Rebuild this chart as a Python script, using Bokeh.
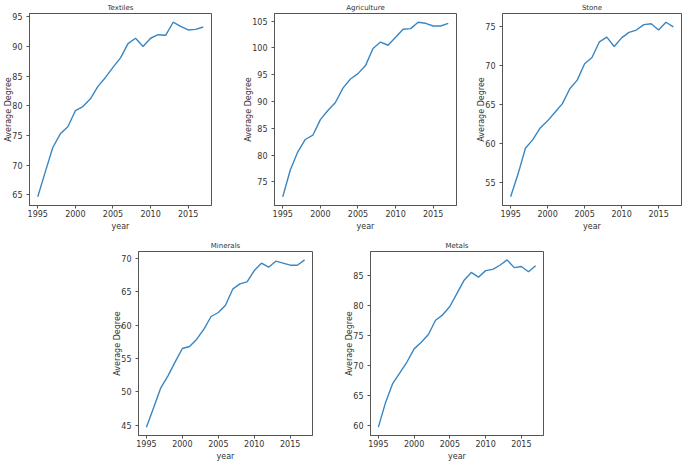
from bokeh.plotting import figure
from bokeh.layouts import row, column
from bokeh.models import Range1d, SingleIntervalTicker, Spacer
from bokeh.embed import file_html
from bokeh.resources import INLINE

years = list(range(1995, 2018))

textiles = [64.7, 68.9, 73.0, 75.3, 76.5, 79.2, 79.9, 81.2, 83.3, 84.8, 86.5, 88.1,
            90.5, 91.4, 90.0, 91.4, 92.0, 91.9, 94.1, 93.4, 92.8, 92.9, 93.3]
agriculture = [72.2, 77.2, 80.6, 82.9, 83.7, 86.6, 88.3, 89.8, 92.5, 94.2, 95.2, 96.7,
               99.9, 101.1, 100.5, 102.0, 103.5, 103.6, 104.8, 104.6, 104.1, 104.1, 104.6]
stone = [53.2, 56.1, 59.4, 60.5, 62.0, 62.9, 64.0, 65.1, 67.0, 68.1, 70.2, 71.0,
         73.0, 73.6, 72.4, 73.5, 74.2, 74.5, 75.2, 75.3, 74.5, 75.5, 74.9]
minerals = [44.7, 47.6, 50.6, 52.4, 54.5, 56.5, 56.8, 57.9, 59.4, 61.3, 61.9, 63.0,
            65.4, 66.2, 66.5, 68.2, 69.3, 68.7, 69.6, 69.3, 69.0, 69.0, 69.8]
metals = [59.7, 63.8, 67.0, 68.8, 70.6, 72.8, 73.9, 75.2, 77.6, 78.5, 79.9, 82.1,
          84.3, 85.6, 84.8, 85.9, 86.1, 86.8, 87.7, 86.4, 86.6, 85.7, 86.7]

FONT = "DejaVu Sans"
TXT = "#333333"


def make(title, vals, fw, fh, bl, br, bt, bb):
    lo, hi = min(vals), max(vals)
    pad = 0.05 * (hi - lo)
    x0, x1 = years[0], years[-1]
    xp = 0.05 * (x1 - x0)
    p = figure(title=title, frame_width=fw, frame_height=fh,
               min_border_left=bl, min_border_right=br,
               min_border_top=bt, min_border_bottom=bb,
               x_range=Range1d(x0 - xp, x1 + xp),
               y_range=Range1d(lo - pad, hi + pad),
               output_backend="svg", toolbar_location=None)
    p.line(years, vals, line_color="#3a86c2", line_width=1.4)
    p.xgrid.visible = False
    p.ygrid.visible = False
    p.outline_line_color = "#555555"
    p.outline_line_width = 1
    p.background_fill_color = "white"
    p.border_fill_color = "white"
    p.title.text_font = FONT
    p.title.text_font_size = "7px"
    p.title.text_font_style = "normal"
    p.title.text_color = TXT
    p.title.align = "center"
    p.title.standoff = 3
    p.xaxis.ticker = SingleIntervalTicker(interval=5, num_minor_ticks=0)
    p.yaxis.ticker = SingleIntervalTicker(interval=5, num_minor_ticks=0)
    p.xaxis.axis_label = "year"
    p.yaxis.axis_label = "Average Degree"
    for ax in (p.xaxis[0], p.yaxis[0]):
        ax.axis_line_color = "#555555"
        ax.major_tick_line_color = "#555555"
        ax.major_tick_out = 3
        ax.major_tick_in = 0
        ax.minor_tick_out = 0
        ax.minor_tick_in = 0
        ax.major_label_text_font = FONT
        ax.major_label_text_font_size = "8px"
        ax.major_label_text_color = TXT
        ax.axis_label_text_font = FONT
        ax.axis_label_text_font_size = "8px"
        ax.axis_label_text_font_style = "normal"
        ax.axis_label_text_color = TXT
    p.xaxis[0].major_label_standoff = 1
    p.xaxis[0].axis_label_standoff = 2
    p.yaxis[0].major_label_standoff = 4
    p.yaxis[0].axis_label_standoff = -4
    return p


p1 = make("Textiles", textiles, 182, 192, 29, 27, 13, 27)
p2 = make("Agriculture", agriculture, 182, 192, 36, 10, 13, 27)
p3 = make("Stone", stone, 179, 192, 36, 3, 13, 27)
p4 = make("Minerals", minerals, 174, 184, 38, 23, 18, 24)
p5 = make("Metals", metals, 173, 184, 35, 10, 18, 24)

layout = column(row(p1, p2, p3),
                row(Spacer(width=100, height=10), p4, p5))

open("out.html", "w").write(file_html(layout, INLINE))
